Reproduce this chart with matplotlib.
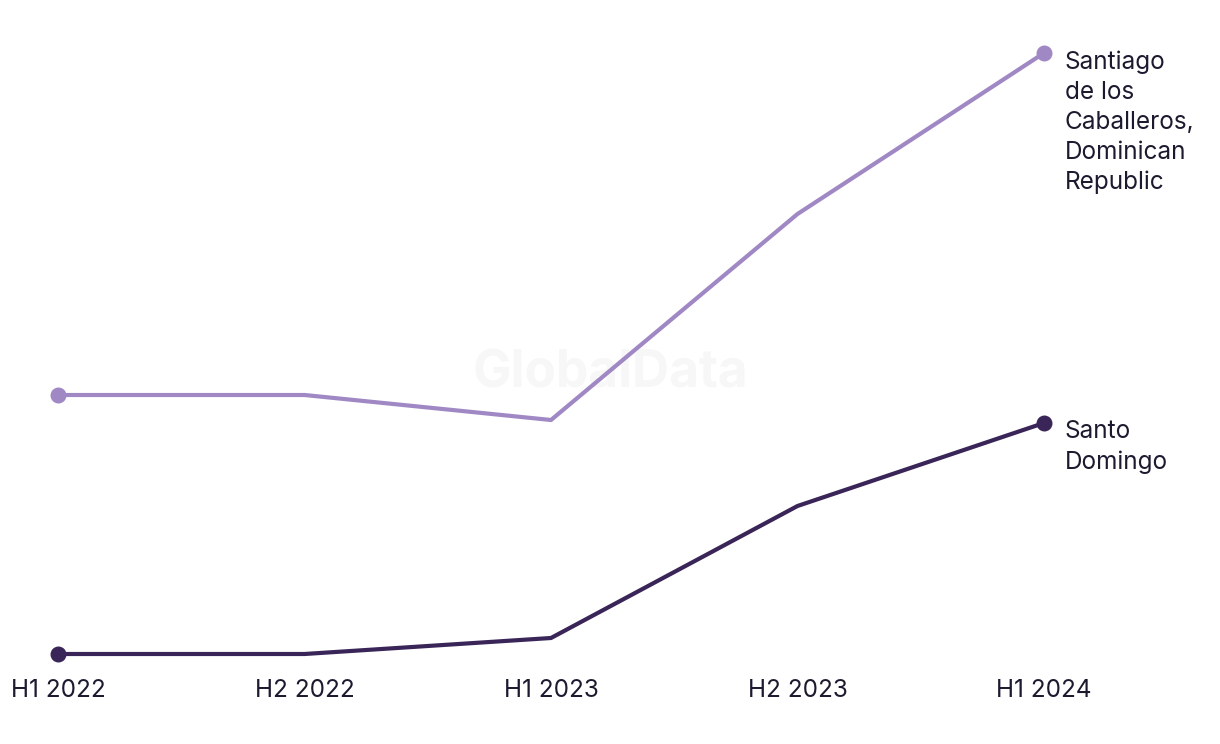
import matplotlib
matplotlib.use("Agg")
from matplotlib import pyplot as plt

plt.rcParams['font.family'] = ['Inter', 'DejaVu Sans']

periods = ["H1 2022", "H2 2022", "H1 2023", "H2 2023", "H1 2024"]
santiago = [259, 259, 234, 440, 601]
santo_domingo = [0, 0, 16, 148, 231]

light = "#a088c4"
dark = "#3a2558"
text_col = "#1c1a2e"

fig = plt.figure(figsize=(12.2, 7.44), dpi=100)
ax = fig.add_axes([58 / 1220, 90 / 744, 986 / 1220, 601 / 744])

x = list(range(len(periods)))
ax.plot(x, santiago, color=light, lw=3, clip_on=False, solid_capstyle="round")
ax.plot(x, santo_domingo, color=dark, lw=3, clip_on=False, solid_capstyle="round")

# dots only at the ends
for s, c in [(santiago, light), (santo_domingo, dark)]:
    ax.scatter([x[0], x[-1]], [s[0], s[-1]], color=c, s=110, zorder=3, clip_on=False)

ax.text(x[-1] + 0.085, santiago[-1] + 3, "Santiago\nde los\nCaballeros,\nDominican\nRepublic",
        color=text_col, fontsize=17.5, va="top", ha="left", linespacing=1.39)
ax.text(x[-1] + 0.085, santo_domingo[-1] + 3, "Santo\nDomingo",
        color=text_col, fontsize=17.5, va="top", ha="left", linespacing=1.39)

# faint watermark
ax.text(2.24, 280, "GlobalData", color="#f7f7f7", fontsize=37,
        fontweight="bold", ha="center", va="center", zorder=0)

ax.set_xlim(0, 4)
ax.set_ylim(0, 601)
ax.set_xticks(x)
ax.set_xticklabels(periods, fontsize=17.5, color=text_col)
ax.tick_params(axis="x", length=0, pad=18)
ax.set_yticks([])
for sp in ax.spines.values():
    sp.set_visible(False)

plt.savefig("out.png", dpi=100)
